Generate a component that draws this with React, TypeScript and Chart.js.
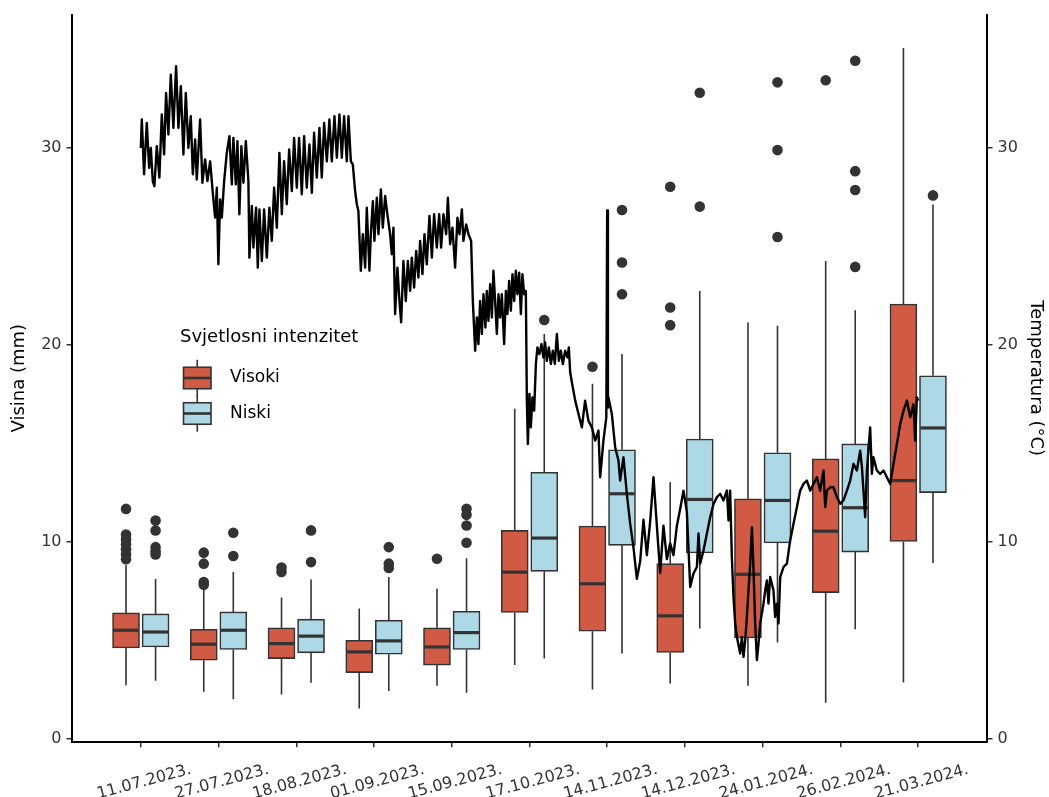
import React, { useEffect, useRef } from 'react';
import { Chart, registerables } from 'chart.js';

Chart.register(...registerables);

// ---------------- data ----------------
const sampleDates = [
  '11.07.2023.', '27.07.2023.', '18.08.2023.', '01.09.2023.', '15.09.2023.', '17.10.2023.',
  '14.11.2023.', '14.12.2023.', '24.01.2024.', '26.02.2024.', '21.03.2024.',
];

const yTickValues = [0, 10, 20, 30];

// Visoki (high light intensity) – box statistics per sampling date
const visokiLower = [2.70, 2.36, 2.23, 1.52, 2.67, 3.72, 2.48, 2.79, 2.67, 1.81, 2.84];
const visokiQ1 = [4.59, 3.97, 4.05, 3.34, 3.72, 6.39, 5.44, 4.36, 5.10, 7.40, 10.00];
const visokiMedian = [5.49, 4.78, 4.81, 4.39, 4.64, 8.44, 7.85, 6.22, 8.33, 10.52, 13.09];
const visokiQ3 = [6.37, 5.54, 5.61, 4.98, 5.61, 10.56, 10.78, 8.87, 12.16, 14.19, 22.05];
const visokiUpper = [8.80, 7.60, 7.15, 6.59, 7.60, 16.73, 18.00, 13.00, 21.12, 24.24, 35.05];
const visokiOutliers = [
  [11.65, 10.35, 10.1, 9.85, 9.6, 9.35, 9.1],
  [9.43, 8.87, 7.94, 7.8],
  [8.67, 8.45],
  [],
  [9.12],
  [],
  [18.87],
  [28.01, 21.88, 20.98],
  [],
  [33.42],
  [],
];

// Niski (low light intensity)
const niskiLower = [2.92, 1.99, 2.82, 2.41, 2.31, 4.05, 4.31, 5.58, 4.87, 5.54, 8.90];
const niskiQ1 = [4.64, 4.51, 4.34, 4.27, 4.51, 8.48, 9.80, 9.41, 9.92, 9.46, 12.48];
const niskiMedian = [5.40, 5.49, 5.19, 4.95, 5.37, 10.17, 12.42, 12.13, 12.08, 11.71, 15.76];
const niskiQ3 = [6.32, 6.42, 6.05, 6.00, 6.45, 13.51, 14.65, 15.20, 14.50, 14.95, 18.41];
const niskiUpper = [8.09, 8.45, 8.06, 8.19, 9.15, 20.53, 19.51, 22.72, 20.95, 21.74, 27.11];
const niskiOutliers = [
  [11.06, 10.56, 9.71, 9.5, 9.34],
  [10.44, 9.26],
  [10.56, 8.95],
  [9.71, 8.87, 8.65],
  [11.66, 11.35, 10.81, 9.93],
  [21.24],
  [26.83, 24.16, 22.55],
  [32.78, 27.0],
  [33.31, 29.87, 25.46],
  [34.41, 28.8, 27.84, 23.94],
  [27.57],
];

// Temperature record: position on the sampling-date axis (1 = 11.07.2023., 11 = 21.03.2024.)
const tempPosition = [
  1.000, 1.013, 1.042, 1.077, 1.107, 1.129, 1.154, 1.175, 1.206, 1.239,
  1.270, 1.300, 1.325, 1.355, 1.386, 1.419, 1.454, 1.484, 1.515, 1.548,
  1.579, 1.612, 1.643, 1.669, 1.699, 1.720, 1.763, 1.792, 1.827, 1.857,
  1.892, 1.926, 1.956, 1.978, 1.998, 2.020, 2.042, 2.072, 2.106, 2.140,
  2.171, 2.191, 2.222, 2.243, 2.268, 2.294, 2.320, 2.351, 2.384, 2.397,
  2.428, 2.449, 2.483, 2.505, 2.526, 2.557, 2.586, 2.621, 2.654, 2.685,
  2.715, 2.750, 2.783, 2.814, 2.843, 2.878, 2.908, 2.943, 2.972, 3.007,
  3.036, 3.071, 3.101, 3.135, 3.169, 3.200, 3.229, 3.264, 3.298, 3.328,
  3.358, 3.393, 3.426, 3.457, 3.491, 3.522, 3.555, 3.586, 3.615, 3.650,
  3.671, 3.702, 3.727, 3.757, 3.779, 3.799, 3.830, 3.856, 3.886, 3.907,
  3.941, 3.959, 3.985, 4.005, 4.036, 4.057, 4.088, 4.113, 4.143, 4.172,
  4.207, 4.229, 4.250, 4.271, 4.301, 4.327, 4.349, 4.378, 4.409, 4.435,
  4.465, 4.486, 4.516, 4.542, 4.571, 4.593, 4.623, 4.649, 4.679, 4.713,
  4.744, 4.773, 4.808, 4.838, 4.863, 4.893, 4.928, 4.950, 4.979, 5.009,
  5.043, 5.073, 5.099, 5.130, 5.150, 5.185, 5.215, 5.249, 5.271, 5.301,
  5.323, 5.343, 5.365, 5.387, 5.408, 5.433, 5.451, 5.472, 5.494, 5.516,
  5.536, 5.558, 5.580, 5.601, 5.622, 5.644, 5.674, 5.696, 5.716, 5.738,
  5.760, 5.781, 5.803, 5.824, 5.845, 5.867, 5.889, 5.909, 5.931, 5.953,
  5.966, 5.979, 5.999, 6.017, 6.038, 6.060, 6.082, 6.102, 6.128, 6.154,
  6.179, 6.201, 6.223, 6.249, 6.275, 6.300, 6.326, 6.352, 6.378, 6.403,
  6.429, 6.459, 6.488, 6.506, 6.523, 6.549, 6.588, 6.630, 6.674, 6.715,
  6.758, 6.802, 6.845, 6.887, 6.909, 6.951, 6.988, 6.999, 7.009, 7.016,
  7.059, 7.102, 7.144, 7.166, 7.209, 7.252, 7.295, 7.337, 7.381, 7.424,
  7.466, 7.510, 7.552, 7.595, 7.638, 7.681, 7.723, 7.767, 7.809, 7.852,
  7.896, 7.938, 7.981, 8.024, 8.067, 8.109, 8.153, 8.174, 8.195, 8.238,
  8.282, 8.324, 8.367, 8.411, 8.453, 8.495, 8.539, 8.560, 8.581, 8.603,
  8.624, 8.646, 8.668, 8.710, 8.732, 8.753, 8.775, 8.796, 8.817, 8.839,
  8.861, 8.882, 8.903, 8.925, 8.946, 8.967, 9.010, 9.032, 9.054, 9.074,
  9.096, 9.138, 9.160, 9.182, 9.203, 9.225, 9.267, 9.311, 9.353, 9.396,
  9.439, 9.482, 9.524, 9.568, 9.611, 9.653, 9.697, 9.739, 9.782, 9.804,
  9.826, 9.868, 9.910, 9.954, 9.997, 10.039, 10.083, 10.125, 10.168, 10.211,
  10.254, 10.276, 10.296, 10.318, 10.340, 10.382, 10.404, 10.424, 10.468, 10.511,
  10.554, 10.597, 10.640, 10.682, 10.726, 10.769, 10.811, 10.855, 10.897, 10.939,
  10.961, 10.983, 11.000,
];

const tempValue = [
  29.98, 31.42, 28.64, 31.25, 28.97, 29.98, 28.3, 28.04, 30.07, 28.47,
  31.68, 29.65, 32.77, 30.66, 33.7, 31.0, 34.13, 31.0, 33.11, 29.65,
  32.77, 29.98, 31.59, 28.64, 30.41, 28.38, 31.42, 28.21, 29.4, 28.3,
  29.3, 27.7, 26.44, 27.96, 24.07, 27.37, 26.44, 28.3, 29.73, 30.58,
  28.13, 30.49, 28.13, 30.32, 26.61, 30.07, 28.21, 30.32, 28.3, 24.41,
  27.03, 24.92, 26.94, 23.9, 26.86, 24.24, 26.86, 24.41, 26.94, 25.26,
  27.96, 25.93, 29.73, 26.61, 29.3, 27.12, 29.9, 27.79, 30.49, 27.96,
  30.49, 27.62, 30.58, 27.96, 30.16, 27.7, 30.75, 28.47, 31.0, 28.47,
  31.25, 29.3, 31.42, 29.3, 31.59, 29.48, 31.68, 29.48, 31.59, 29.3,
  31.59, 29.3, 29.14, 27.79, 27.12, 26.78, 23.74, 25.6, 23.9, 26.94,
  23.74, 25.6, 27.28, 25.26, 27.45, 25.6, 27.87, 25.93, 27.54, 26.61,
  25.6, 24.58, 25.93, 21.54, 23.9, 22.21, 21.12, 24.24, 22.21, 24.24,
  22.72, 24.41, 22.89, 24.75, 23.4, 25.26, 23.57, 25.6, 24.07, 26.52,
  24.41, 26.61, 24.92, 26.61, 24.92, 26.61, 25.6, 27.45, 25.09, 25.93,
  23.9, 26.44, 25.6, 26.86, 25.26, 26.1, 25.6, 25.26, 22.21, 19.68,
  21.37, 20.02, 22.21, 20.53, 22.55, 20.86, 22.72, 21.2, 23.06, 21.37,
  23.74, 22.21, 20.53, 22.55, 21.37, 22.55, 20.02, 22.72, 21.54, 23.23,
  21.71, 23.57, 22.21, 23.74, 22.55, 23.65, 21.54, 23.57, 22.55, 22.72,
  17.15, 14.95, 17.49, 15.79, 17.31, 16.64, 19.01, 19.85, 19.51, 20.02,
  19.34, 20.1, 19.17, 19.85, 19.01, 19.68, 19.01, 20.53, 19.17, 19.68,
  19.01, 19.68, 19.34, 19.85, 18.6, 17.99, 17.15, 16.47, 15.79, 17.15,
  16.13, 15.79, 15.12, 15.63, 13.26, 15.12, 16.3, 26.81, 16.8, 17.31,
  16.47, 14.78, 14.11, 13.09, 14.27, 12.42, 10.9, 9.71, 8.1, 9.0,
  11.1, 9.3, 11.0, 13.26, 10.8, 8.4, 10.8, 9.1, 9.9, 9.3,
  10.8, 11.65, 12.58, 11.5, 7.69, 8.37, 8.7, 10.4, 8.87, 9.54,
  10.4, 11.23, 11.9, 12.25, 12.42, 12.08, 12.58, 11.06, 12.58, 9.2,
  7.18, 5.84, 5.15, 4.31, 5.15, 4.14, 4.98, 6.16, 7.52, 8.87,
  10.72, 8.53, 5.84, 3.97, 4.81, 5.83, 6.84, 7.52, 8.02, 6.84,
  8.19, 7.52, 6.16, 6.84, 5.83, 8.19, 8.7, 8.87, 10.05, 10.9,
  11.74, 12.58, 12.92, 13.09, 12.58, 12.92, 13.26, 12.58, 13.6, 11.74,
  12.58, 12.75, 12.75, 12.25, 11.91, 12.08, 12.58, 13.09, 13.94, 13.6,
  14.61, 13.77, 12.58, 11.23, 13.6, 15.79, 13.43, 14.27, 13.6, 13.43,
  13.6, 13.26, 12.92, 13.94, 14.95, 15.97, 16.64, 17.15, 16.3, 16.98,
  15.12, 17.31, 17.15,
];

const legendTitle = 'Svjetlosni intenzitet';
const groupNames = ['Visoki', 'Niski'];

// ---------------- styles ----------------
const RED = '#D05A43';
const BLUE = '#ADD8E6';
const INK = '#333333';
const FONT = "'DejaVu Sans', 'Liberation Sans', sans-serif";
const DODGE = 0.19;

type Group = {
  name: string; color: string; shift: number;
  lower: number[]; q1: number[]; median: number[]; q3: number[]; upper: number[]; outliers: number[][];
};

const groups: Group[] = [
  { name: groupNames[0], color: RED, shift: -DODGE, lower: visokiLower, q1: visokiQ1, median: visokiMedian, q3: visokiQ3, upper: visokiUpper, outliers: visokiOutliers },
  { name: groupNames[1], color: BLUE, shift: DODGE, lower: niskiLower, q1: niskiQ1, median: niskiMedian, q3: niskiQ3, upper: niskiUpper, outliers: niskiOutliers },
];

const boxPlotPlugin = {
  id: 'boxPlotParts',
  beforeDatasetsDraw(chart: any) {
    const { ctx, chartArea } = chart;
    const y = chart.scales.y;
    ctx.save();
    ctx.beginPath();
    ctx.rect(chartArea.left, chartArea.top, chartArea.right - chartArea.left, chartArea.bottom - chartArea.top);
    ctx.clip();
    ctx.strokeStyle = INK;
    ctx.lineWidth = 1.6;
    chart.data.datasets.forEach((ds: any, i: number) => {
      const g: Group | undefined = ds.boxGroup;
      if (!g) return;
      chart.getDatasetMeta(i).data.forEach((el: any, j: number) => {
        ctx.beginPath();
        ctx.moveTo(el.x, y.getPixelForValue(g.lower[j]));
        ctx.lineTo(el.x, y.getPixelForValue(g.q1[j]));
        ctx.moveTo(el.x, y.getPixelForValue(g.q3[j]));
        ctx.lineTo(el.x, y.getPixelForValue(g.upper[j]));
        ctx.stroke();
      });
    });
    ctx.restore();
  },
  afterDatasetDraw(chart: any, args: any) {
    const ds: any = chart.data.datasets[args.index];
    const g: Group | undefined = ds.boxGroup;
    if (!g) return;
    const { ctx } = chart;
    const y = chart.scales.y;
    ctx.save();
    ctx.strokeStyle = INK;
    ctx.lineWidth = 3.2;
    args.meta.data.forEach((el: any, j: number) => {
      const py = y.getPixelForValue(g.median[j]);
      ctx.beginPath();
      ctx.moveTo(el.x - el.width / 2 + 0.8, py);
      ctx.lineTo(el.x + el.width / 2 - 0.8, py);
      ctx.stroke();
    });
    ctx.restore();
  },
  afterDraw(chart: any) {
    const { ctx } = chart;
    const o = { titleX: 180, titleY: 342, keyLeft: 183.5, keyW: 27.5, keyH: 21.5, whisker: 7.5, firstY: 378, step: 35.5, textX: 230 };
    ctx.save();
    ctx.fillStyle = '#000';
    ctx.textAlign = 'left';
    ctx.textBaseline = 'alphabetic';
    ctx.font = `18px ${FONT}`;
    ctx.fillText(legendTitle, o.titleX, o.titleY);
    groups.forEach((g, k) => {
      const cy = o.firstY + k * o.step;
      const cx = o.keyLeft + o.keyW / 2;
      ctx.strokeStyle = INK;
      ctx.lineWidth = 1.6;
      ctx.beginPath();
      ctx.moveTo(cx, cy - o.keyH / 2 - o.whisker);
      ctx.lineTo(cx, cy + o.keyH / 2 + o.whisker);
      ctx.stroke();
      ctx.fillStyle = g.color;
      ctx.fillRect(o.keyLeft, cy - o.keyH / 2, o.keyW, o.keyH);
      ctx.strokeRect(o.keyLeft, cy - o.keyH / 2, o.keyW, o.keyH);
      ctx.lineWidth = 2.6;
      ctx.beginPath();
      ctx.moveTo(o.keyLeft, cy);
      ctx.lineTo(o.keyLeft + o.keyW, cy);
      ctx.stroke();
      ctx.fillStyle = '#000';
      ctx.font = `17px ${FONT}`;
      ctx.textBaseline = 'middle';
      ctx.fillText(g.name, o.textX, cy);
    });
    ctx.restore();
  },
};

export default function App() {
  const canvasRef = useRef<HTMLCanvasElement>(null);

  useEffect(() => {
    const canvas = canvasRef.current;
    if (!canvas) return;

    const boxDatasets = groups.map((g) => ({
      type: 'bar' as const,
      label: g.name,
      data: sampleDates.map((_, i) => ({ x: i + 1 + g.shift, y: [g.q1[i], g.q3[i]] })),
      backgroundColor: g.color,
      borderColor: INK,
      borderWidth: 1.6,
      borderSkipped: false,
      barThickness: 27,
      grouped: false,
      xAxisID: 'x',
      yAxisID: 'y',
      order: 1,
      boxGroup: g,
    }));

    const outlierDatasets = groups.map((g) => ({
      type: 'scatter' as const,
      label: `${g.name} outliers`,
      data: g.outliers.flatMap((vals, i) => vals.map((v) => ({ x: i + 1 + g.shift, y: v }))),
      pointRadius: 5.3,
      pointHoverRadius: 5.3,
      backgroundColor: INK,
      borderWidth: 0,
      xAxisID: 'x',
      yAxisID: 'y',
      order: 2,
    }));

    const tempDataset = {
      type: 'line' as const,
      label: 'Temperatura',
      data: tempPosition.map((p, i) => ({ x: p, y: tempValue[i] })),
      borderColor: '#000',
      borderWidth: 2.4,
      borderJoinStyle: 'round',
      pointRadius: 0,
      tension: 0,
      fill: false,
      xAxisID: 'x',
      yAxisID: 'y2',
      order: 0,
    };

    const tickFont = { family: FONT, size: 16 };
    const titleFont = { family: FONT, size: 18 };

    const chart = new Chart(canvas, {
      type: 'scatter',
      data: { datasets: [tempDataset, ...boxDatasets, ...outlierDatasets] as any },
      plugins: [boxPlotPlugin],
      options: {
        responsive: false,
        animation: false,
        devicePixelRatio: 1,
        events: [],
        layout: { padding: { top: 13.3, left: 0, right: 0, bottom: 0 } },
        plugins: { legend: { display: false }, tooltip: { enabled: false } },
        scales: {
          x: {
            type: 'linear',
            position: 'bottom',
            min: 0.115,
            max: 11.885,
            offset: false,
            afterBuildTicks: (s: any) => { s.ticks = sampleDates.map((_, i) => ({ value: i + 1 })); },
            afterFit: (s: any) => { s.height = 55.3; },
            ticks: {
              autoSkip: false,
              minRotation: 15,
              maxRotation: 15,
              labelOffset: 50,
              padding: 13,
              color: INK,
              font: tickFont,
              callback: (v: any) => sampleDates[Math.round(Number(v)) - 1] ?? '',
            },
            grid: { display: true, drawOnChartArea: false, drawTicks: true, tickLength: 5.5, color: INK, lineWidth: 1.5, offset: false },
            border: { display: true, color: '#000', width: 2 },
          },
          y: {
            type: 'linear',
            position: 'left',
            min: -0.17,
            max: 36.75,
            afterBuildTicks: (s: any) => { s.ticks = yTickValues.map((v) => ({ value: v })); },
            afterFit: (s: any) => { s.width = 72; },
            ticks: { color: INK, font: tickFont, padding: 5 },
            grid: { display: true, drawOnChartArea: false, drawTicks: true, tickLength: 5.5, color: INK, lineWidth: 1.5 },
            border: { display: true, color: '#000', width: 2 },
            title: { display: true, text: 'Visina (mm)', color: '#000', font: titleFont, padding: { top: 9, bottom: 0 } },
          },
          y2: {
            type: 'linear',
            position: 'right',
            min: -0.17,
            max: 36.75,
            afterBuildTicks: (s: any) => { s.ticks = yTickValues.map((v) => ({ value: v })); },
            afterFit: (s: any) => { s.width = 62; },
            ticks: { color: INK, font: tickFont, padding: 5 },
            grid: { display: true, drawOnChartArea: false, drawTicks: true, tickLength: 5.5, color: INK, lineWidth: 1.5 },
            border: { display: true, color: '#000', width: 2 },
            title: { display: true, text: 'Temperatura (°C)', color: '#000', font: titleFont, padding: { top: 3, bottom: 0 } },
          },
        },
      } as any,
    });

    return () => chart.destroy();
  }, []);

  return (
    <div style={{ position: 'fixed', left: 0, top: 0, width: 1049, height: 797, background: '#fff' }}>
      <canvas ref={canvasRef} width={1049} height={797} style={{ display: 'block', width: '1049px', height: '797px' }} />
    </div>
  );
}
